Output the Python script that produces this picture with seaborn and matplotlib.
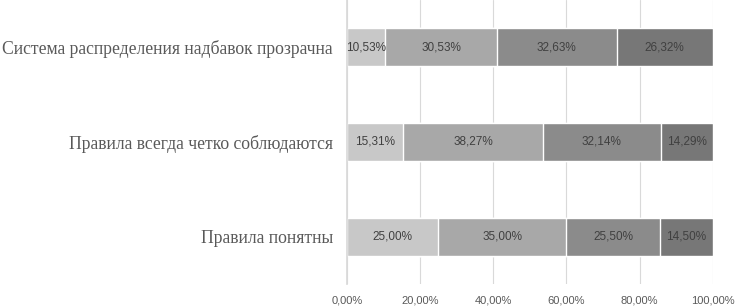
import numpy as np
import pandas as pd
import matplotlib
matplotlib.use('Agg')
import matplotlib.pyplot as plt
import seaborn as sns

categories = ['Система распределения надбавок прозрачна',
              'Правила всегда четко соблюдаются',
              'Правила понятны']
s1 = [10.53, 15.31, 25.00]
s2 = [30.53, 38.27, 35.00]
s3 = [32.63, 32.14, 25.50]
s4 = [26.32, 14.29, 14.50]
series = [s1, s2, s3, s4]
colors = ['#c8c8c8', '#a8a8a8', '#8b8b8b', '#777777']
xticks = [0, 20, 40, 60, 80, 100]

sns.set_theme(style='white')
plt.rcParams['font.family'] = ['Liberation Sans', 'DejaVu Sans']

fig = plt.figure(figsize=(7.38, 3.08), dpi=100)
ax = fig.add_axes([0.470, 0.078, 0.496, 0.922])

cum = np.cumsum(np.array(series), axis=0)
# draw from the total down so each shorter bar sits on top
for i in range(len(series) - 1, -1, -1):
    df = pd.DataFrame({'cat': categories, 'val': cum[i]})
    sns.barplot(data=df, x='val', y='cat', color=colors[i], width=0.4,
                saturation=1, ax=ax, zorder=2)

for i in range(len(series)):
    for j, cat in enumerate(categories):
        left = cum[i][j] - series[i][j]
        ax.text(left + series[i][j] / 2, j, f'{series[i][j]:.2f}%'.replace('.', ','),
                ha='center', va='center', fontsize=8.5, color='#404040', zorder=3)

ax.set_xlim(0, 100)
ax.set_ylim(2.5, -0.5)
ax.set_xticks(xticks)
ax.set_xticklabels([f'{v:.2f}%'.replace('.', ',') for v in xticks],
                   fontsize=8, color='#595959')
ax.set_yticks(range(len(categories)))
ax.set_yticklabels(categories, fontfamily='Liberation Serif', fontsize=12.7,
                   color='#595959')
ax.set_xlabel('')
ax.set_ylabel('')
ax.grid(axis='x', color='#d9d9d9', linewidth=0.8, zorder=0)
ax.set_axisbelow(True)
for side in ['top', 'right', 'bottom']:
    ax.spines[side].set_visible(False)
ax.spines['left'].set_color('#d9d9d9')
ax.tick_params(axis='y', length=0, pad=10)
ax.tick_params(axis='x', length=0, pad=8)
# small minor ticks between categories on the left axis
ax.set_yticks([-0.5, 0.5, 1.5, 2.5], minor=True)
ax.tick_params(axis='y', which='minor', length=4, color='#d9d9d9', direction='out')

fig.savefig('out.png', dpi=100)
